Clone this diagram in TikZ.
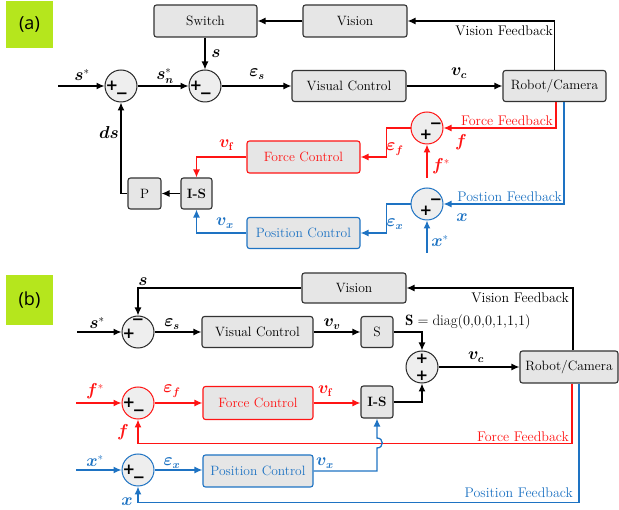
\documentclass[tikz,border=0pt]{standalone}
\usepackage{amsmath,bm}
\usepackage{fontspec}
\usetikzlibrary{arrows.meta}
\newfontfamily\labfont{Open Sans}
\newfontfamily\sgnfont{DejaVu Sans}
\definecolor{myred}{RGB}{255,20,20}
\definecolor{myblue}{RGB}{30,115,195}
\definecolor{boxgray}{RGB}{230,230,230}
\definecolor{circgray}{RGB}{238,238,238}
\definecolor{limetag}{RGB}{181,230,29}
\tikzset{
  blk/.style={draw=black!80, fill=boxgray, rounded corners=2.5pt, line width=1.1pt, inner sep=0pt, font=\fontsize{13.5}{15}\selectfont},
  rblk/.style={blk, draw=myred, text=myred},
  bblk/.style={blk, draw=myblue, text=myblue},
  sumc/.style={circle, draw=black!85, fill=circgray, minimum size=32pt, inner sep=0pt, line width=1pt},
  sgn/.style={inner sep=0pt, font=\sgnfont\bfseries\fontsize{15}{15}\selectfont},
  ln/.style={line width=1.3pt},
  arr/.style={ln, -{Latex[length=8pt,width=7pt]}},
  var/.style={inner sep=0pt, font=\fontsize{16}{18}\selectfont},
  fb/.style={inner sep=0pt, anchor=east, font=\fontsize{14}{16}\selectfont},
  tagbox/.style={fill=limetag, inner sep=0pt, font=\labfont\fontsize{18}{20}\selectfont}
}
\newcommand{\plusS}{+}
\newcommand{\minusS}{−}
\begin{document}
\begin{tikzpicture}[x=1pt,y=-1pt]
\useasboundingbox (0,0) rectangle (619,510);

% ---------------- (a) ----------------
\node[tagbox, minimum width=47pt, minimum height=47pt] (tagA) at (29.5,24.5) {(a)};

\node[blk, minimum width=103pt, minimum height=32pt] (switchA) at (205.5,21) {Switch};
\node[blk, minimum width=104pt, minimum height=32pt] (visionA) at (355,21) {Vision};
\node[blk, minimum width=103pt, minimum height=31pt] (robotA) at (554.5,86) {Robot/Camera};
\node[blk, minimum width=114pt, minimum height=31pt] (visA) at (349,86) {Visual Control};
\node[sumc] (j1) at (121,86) {};
\node[sumc] (j2) at (205,86) {};
\node[blk, minimum width=33pt, minimum height=31pt] (pA) at (144.5,193.5) {P};
\node[blk, minimum width=31pt, minimum height=31pt] (isA) at (196.5,193.5) {\textbf{I-S}};
\node[rblk, minimum width=113pt, minimum height=32pt] (forceA) at (303.5,157) {Force Control};
\node[bblk, minimum width=113pt, minimum height=31pt] (posA) at (303.5,233) {Position Control};
\node[sumc, draw=myred] (jfA) at (427,128) {};
\node[sumc, draw=myblue] (jpA) at (427,204) {};

\node[sgn] at ([shift={(-9,0)}]j1) {\plusS};
\node[sgn] at ([shift={(1,10)}]j1) {\minusS};
\node[sgn] at ([shift={(-9,0)}]j2) {\plusS};
\node[sgn] at ([shift={(1,10)}]j2) {\minusS};
\node[sgn] at ([shift={(9,-2)}]jfA) {\minusS};
\node[sgn] at ([shift={(-1,7)}]jfA) {\plusS};
\node[sgn] at ([shift={(9,-2)}]jpA) {\minusS};
\node[sgn] at ([shift={(-1,7)}]jpA) {\plusS};

\coordinate (sinA) at (58,86);
\coordinate (fstarA) at (427,178);
\coordinate (xstarA) at (427,253);

\draw[arr] (visionA.west) -- (switchA.east);
\draw[arr] (robotA.north) |- (visionA.east);
\draw[arr] (j2 |- switchA.south) -- (j2.north);
\draw[arr] (sinA) -- (j1.west);
\draw[arr] (j1.east) -- (j2.west);
\draw[arr] (j2.east) -- (visA.west);
\draw[arr] (visA.east) -- (robotA.west);
\draw[arr] (pA.west) -| (j1.south);
\draw[arr] (isA.west) -- (pA.east);
\draw[arr, myred] (forceA.west) -| (isA.north);
\draw[arr, myblue] (posA.west) -| (isA.south);
\draw[arr, myred] ([xshift=1.5pt]robotA.south) |- (jfA.east);
\draw[arr, myblue] ([xshift=9.5pt]robotA.south) |- (jpA.east);
\draw[arr, myred] (fstarA) -- (jfA.south);
\draw[arr, myblue] (xstarA) -- (jpA.south);
\draw[arr, myred] (jfA.west) -- ++(-24,0) |- (forceA.east);
\draw[arr, myblue] (jpA.west) -- ++(-24,0) |- (posA.east);

\node[fb] at (553,31) {Vision Feedback};
\node[fb, text=myred] at (553,121) {Force Feedback};
\node[fb, text=myblue] at (562,197) {Postion Feedback};

\node[var] at (82,75) {$\bm{s}^{*}$};
\node[var] at (165,76) {$\bm{s_n}^{*}$};
\node[var] at (216,54) {$\bm{s}$};
\node[var] at (257,74) {$\bm{\varepsilon_s}$};
\node[var] at (459,73) {$\bm{v_c}$};
\node[var] at (109,133) {$\bm{ds}$};
\node[var, text=myred] at (226,145) {$\bm{v}_{\mathbf{f}}$};
\node[var, text=myblue] at (225,223) {$\bm{v_x}$};
\node[var, text=myred] at (395,149) {$\bm{\varepsilon_f}$};
\node[var, text=myred] at (461,142) {$\bm{f}$};
\node[var, text=myred] at (441,166) {$\bm{f}^{*}$};
\node[var, text=myblue] at (395,224) {$\bm{\varepsilon_x}$};
\node[var, text=myblue] at (462,218) {$\bm{x}$};
\node[var, text=myblue] at (440,241) {$\bm{x}^{*}$};

% ---------------- (b) ----------------
\node[tagbox, minimum width=47pt, minimum height=50pt] (tagB) at (29.5,300) {(b)};

\node[blk, minimum width=104pt, minimum height=30pt] (visionB) at (354,288) {Vision};
\node[blk, minimum width=98pt, minimum height=32pt] (robotB) at (569,367) {Robot/Camera};
\node[sumc] (jb1) at (138,332) {};
\node[blk, minimum width=111pt, minimum height=31pt] (visB) at (257.5,332) {Visual Control};
\node[blk, minimum width=32pt, minimum height=31pt] (sB) at (377,332) {S};
\node[sumc] (jb2) at (422,367) {};
\node[sumc, draw=myred] (jb3) at (138,403) {};
\node[rblk, minimum width=110pt, minimum height=33pt] (forceB) at (258,403) {Force Control};
\node[blk, minimum width=32pt, minimum height=32pt] (isB) at (377,402) {\textbf{I-S}};
\node[sumc, draw=myblue] (jb4) at (138,470) {};
\node[bblk, minimum width=110pt, minimum height=32pt] (posB) at (258,471) {Position Control};

\node[sgn] at ([shift={(0,-10)}]jb1) {\minusS};
\node[sgn] at ([shift={(-9,2)}]jb1) {\plusS};
\node[sgn] at ([shift={(0,-8)}]jb2) {\plusS};
\node[sgn] at ([shift={(0,9)}]jb2) {\plusS};
\node[sgn] at ([shift={(-9,0)}]jb3) {\plusS};
\node[sgn] at ([shift={(1,10)}]jb3) {\minusS};
\node[sgn] at ([shift={(-9,0)}]jb4) {\plusS};
\node[sgn] at ([shift={(1,10)}]jb4) {\minusS};

\coordinate (sinB) at (77,332);
\coordinate (fsB) at (76,403);
\coordinate (xsB) at (76,470);
\coordinate (hb) at (377,448);
\coordinate (ht) at (377,438);

\draw[arr] ([xshift=4pt]robotB.north) |- (visionB.east);
\draw[arr] (visionB.west) -| (jb1.north);
\draw[arr] (sinB) -- (jb1.west);
\draw[arr] (jb1.east) -- (visB.west);
\draw[arr] (visB.east) -- (sB.west);
\draw[arr] (sB.east) -| (jb2.north);
\draw[arr] (jb2.east) -- (robotB.west);
\draw[arr, myred] (fsB) -- (jb3.west);
\draw[arr, myred] (jb3.east) -- (forceB.west);
\draw[arr, myred] (forceB.east) -- (isB.west |- forceB.east);
\draw[arr] (isB.east) -| (jb2.south);
\draw[arr, myred] ([xshift=3pt]robotB.south) -- ++(0,60) -| (jb3.south);
\draw[arr, myblue] ([xshift=10pt]robotB.south) -- ++(0,119) -| (jb4.south);
\draw[arr, myblue] (xsB) -- (jb4.west);
\draw[arr, myblue] (jb4.east) -- (posB.west |- jb4.east);
\draw[arr, myblue] (posB.east) -| (hb) .. controls (384,448) and (384,438) .. (ht) -- (isB.south);

\node[fb] at (569,298) {Vision Feedback};
\node[fb, text=myred] at (569,437) {Force Feedback};
\node[fb, text=myblue] at (573,493) {Position Feedback};

\node[var] at (143,282) {$\bm{s}$};
\node[var] at (97,323) {$\bm{s}^{*}$};
\node[var] at (172,324) {$\bm{\varepsilon_s}$};
\node[var] at (332,324) {$\bm{v_v}$};
\node[var, anchor=west, font=\fontsize{15}{17}\selectfont] at (405,322) {$\mathbf{S}=\mathrm{diag}(0{,}0{,}0{,}1{,}1{,}1)$};
\node[var] at (476,357) {$\bm{v_c}$};
\node[var, text=myred] at (95,391) {$\bm{f}^{*}$};
\node[var, text=myred] at (172,391) {$\bm{\varepsilon_f}$};
\node[var, text=myred] at (325,391) {$\bm{v}_{\mathbf{f}}$};
\node[var, text=myred] at (123,432) {$\bm{f}$};
\node[var, text=myblue] at (95,461) {$\bm{x}^{*}$};
\node[var, text=myblue] at (172,463) {$\bm{\varepsilon_x}$};
\node[var, text=myblue] at (325,463) {$\bm{v_x}$};
\node[var, text=myblue] at (127,502) {$\bm{x}$};
\end{tikzpicture}
\end{document}
